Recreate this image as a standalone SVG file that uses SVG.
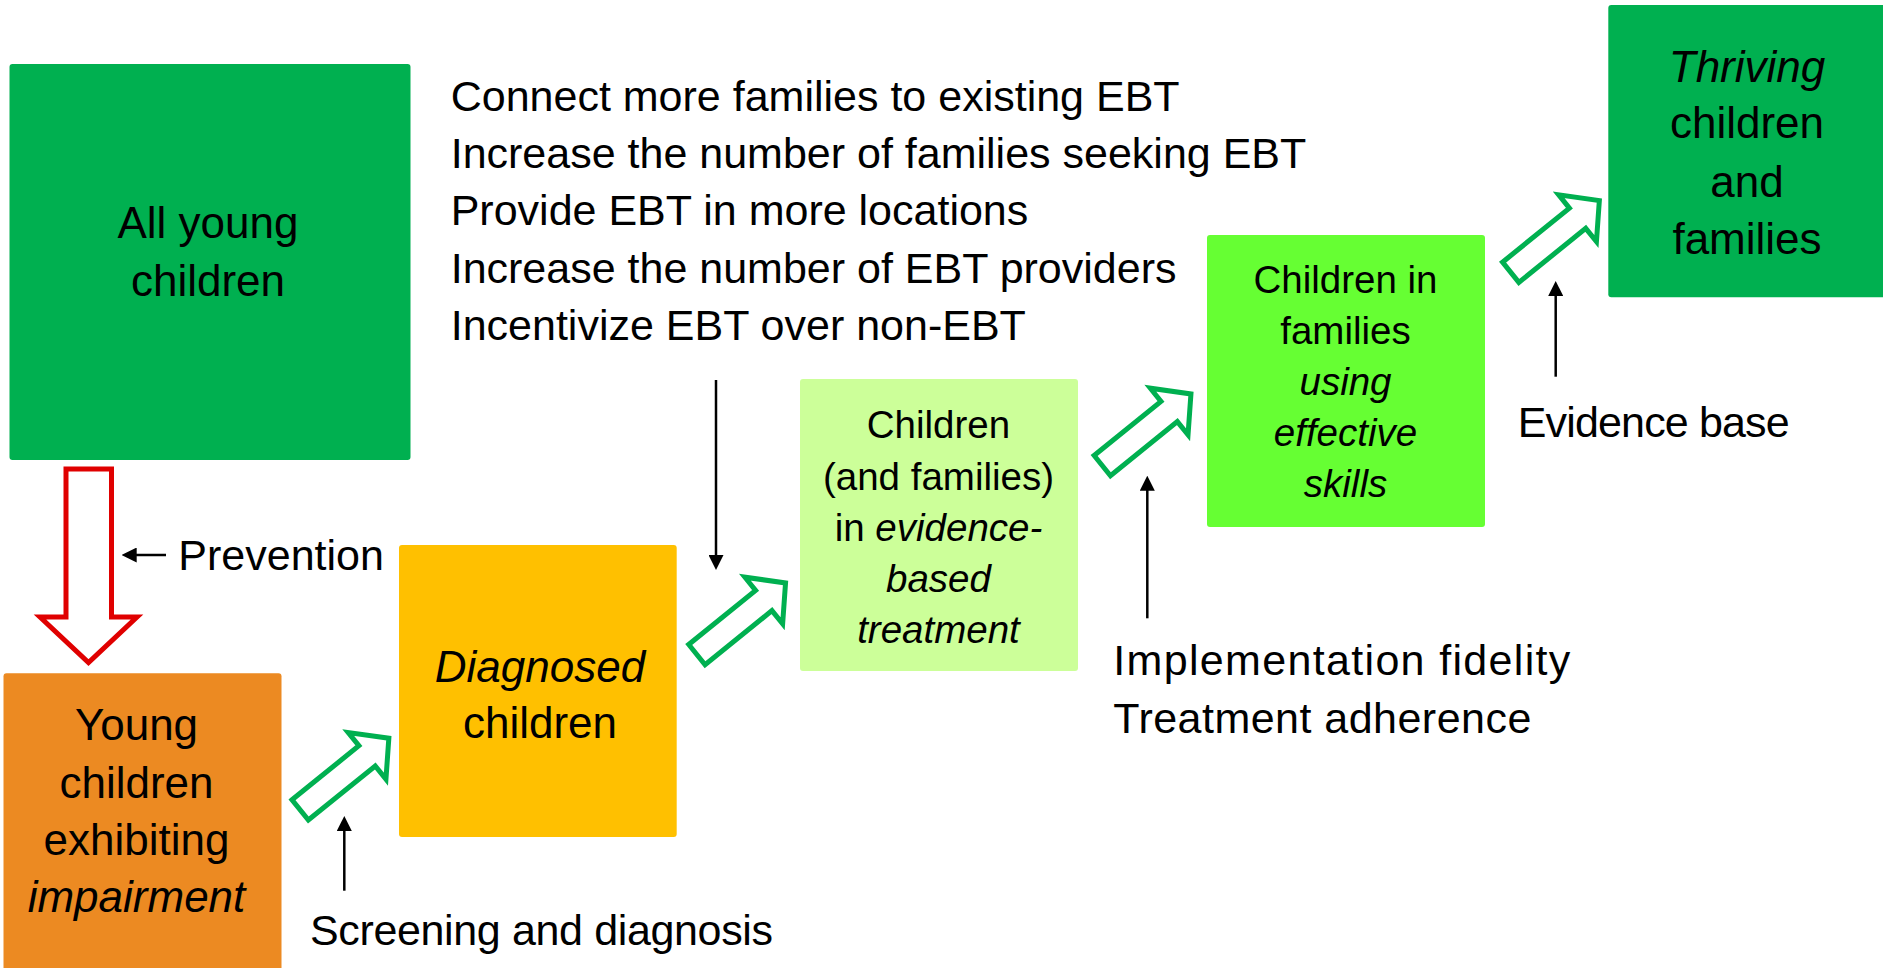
<svg xmlns="http://www.w3.org/2000/svg" width="1883" height="968" viewBox="0 0 1883 968">
  <style>
    text { font-family: "Liberation Sans", Arial, sans-serif; fill: #000; }
    .big { font-size: 44px; text-anchor: middle; }
    .mid { font-size: 38.5px; text-anchor: middle; }
    .lbl { font-size: 43px; }
    .it { font-style: italic; }
    .box { stroke: none; }
    .flow { fill: #fff; stroke: #00B050; stroke-width: 5; stroke-linejoin: miter; stroke-miterlimit: 10; }
    .ptr { fill: none; stroke: #000; stroke-width: 2.5; }
  </style>
  <defs>
    <marker id="ah" markerUnits="userSpaceOnUse" viewBox="0 0 15 15" markerWidth="15" markerHeight="15" refX="5" refY="7.5" orient="auto">
      <path d="M0,0 L15,7.5 L0,15 z" fill="#000"/>
    </marker>
    <polygon id="blk" points="0,-13 86,-13 86,-30 114,0 86,30 86,13 0,13"/>
  </defs>
  <rect width="1883" height="968" fill="#fff"/>

  <g id="node-all-young">
    <rect class="box" x="9.5" y="64" width="401" height="396" rx="3" fill="#00B050"/>
    <text class="big" x="208" y="238.3">All young</text>
    <text class="big" x="208" y="296">children</text>
  </g>

  <g id="node-impairment">
    <rect class="box" x="3.5" y="673.3" width="278" height="310" rx="3" fill="#EC8A22"/>
    <text class="big" x="136.5" y="740">Young</text>
    <text class="big" x="136.5" y="798">children</text>
    <text class="big" x="136.5" y="855">exhibiting</text>
    <text class="big it" x="136.5" y="911.7">impairment</text>
  </g>

  <g id="node-diagnosed">
    <rect class="box" x="399" y="545" width="277.7" height="292" rx="3" fill="#FFC000"/>
    <text class="big it" x="540" y="682">Diagnosed</text>
    <text class="big" x="540" y="738">children</text>
  </g>

  <g id="node-ebt">
    <rect class="box" x="800" y="379" width="278" height="292" rx="3" fill="#CCFF99"/>
    <text class="mid" x="938.5" y="438.3">Children</text>
    <text class="mid" x="938.5" y="489.5">(and families)</text>
    <text class="mid" x="938.5" y="540.8">in <tspan class="it">evidence-</tspan></text>
    <text class="mid it" x="938.5" y="592">based</text>
    <text class="mid it" x="938.5" y="643.3">treatment</text>
  </g>

  <g id="node-skills">
    <rect class="box" x="1207" y="235" width="278" height="292" rx="3" fill="#66FF33"/>
    <text class="mid" x="1345.5" y="292.7">Children in</text>
    <text class="mid" x="1345.5" y="344">families</text>
    <text class="mid it" x="1345.5" y="395">using</text>
    <text class="mid it" x="1345.5" y="446">effective</text>
    <text class="mid it" x="1345.5" y="496.7">skills</text>
  </g>

  <g id="node-thriving">
    <rect class="box" x="1608.3" y="5" width="290" height="292.3" rx="3" fill="#00B050"/>
    <text class="big it" x="1747" y="81.7">Thriving</text>
    <text class="big" x="1747" y="138.3">children</text>
    <text class="big" x="1747" y="196.7">and</text>
    <text class="big" x="1747" y="254">families</text>
  </g>

  <g id="strategies">
    <text class="lbl" x="450.7" y="110.7">Connect more families to existing EBT</text>
    <text class="lbl" x="450.7" y="168.3">Increase the number of families seeking EBT</text>
    <text class="lbl" x="450.7" y="225">Provide EBT in more locations</text>
    <text class="lbl" x="450.7" y="282.7">Increase the number of EBT providers</text>
    <text class="lbl" x="450.7" y="340">Incentivize EBT over non-EBT</text>
  </g>

  <g id="labels">
    <text class="lbl" x="178.3" y="570">Prevention</text>
    <text class="lbl" x="310" y="945" textLength="463" lengthAdjust="spacing">Screening and diagnosis</text>
    <text class="lbl" x="1113.3" y="675" textLength="457" lengthAdjust="spacing">Implementation fidelity</text>
    <text class="lbl" x="1113.3" y="733.3" textLength="418" lengthAdjust="spacing">Treatment adherence</text>
    <text class="lbl" x="1517.7" y="436.7" textLength="272" lengthAdjust="spacing">Evidence base</text>
  </g>

  <g id="connectors">
    <polygon points="66,469 111.5,469 111.5,617 137,617 88.5,662.5 40,617 66,617" fill="#fff" stroke="#E00000" stroke-width="5" stroke-miterlimit="10"/>
    <use href="#blk" class="flow" transform="translate(300.2,809.9) rotate(-38.96)"/>
    <use href="#blk" class="flow" transform="translate(696.9,654.6) rotate(-38.96)"/>
    <use href="#blk" class="flow" transform="translate(1102.3,465.6) rotate(-38.96)"/>
    <use href="#blk" class="flow" transform="translate(1510.7,272.3) rotate(-38.96)"/>
    <line class="ptr" x1="166" y1="555" x2="131.7" y2="555" marker-end="url(#ah)"/>
    <line class="ptr" x1="344.3" y1="890.7" x2="344.3" y2="826" marker-end="url(#ah)"/>
    <line class="ptr" x1="716" y1="380" x2="716" y2="560" marker-end="url(#ah)"/>
    <line class="ptr" x1="1147.3" y1="618.3" x2="1147.3" y2="485.7" marker-end="url(#ah)"/>
    <line class="ptr" x1="1555.7" y1="376.7" x2="1555.7" y2="291" marker-end="url(#ah)"/>
  </g>
</svg>
